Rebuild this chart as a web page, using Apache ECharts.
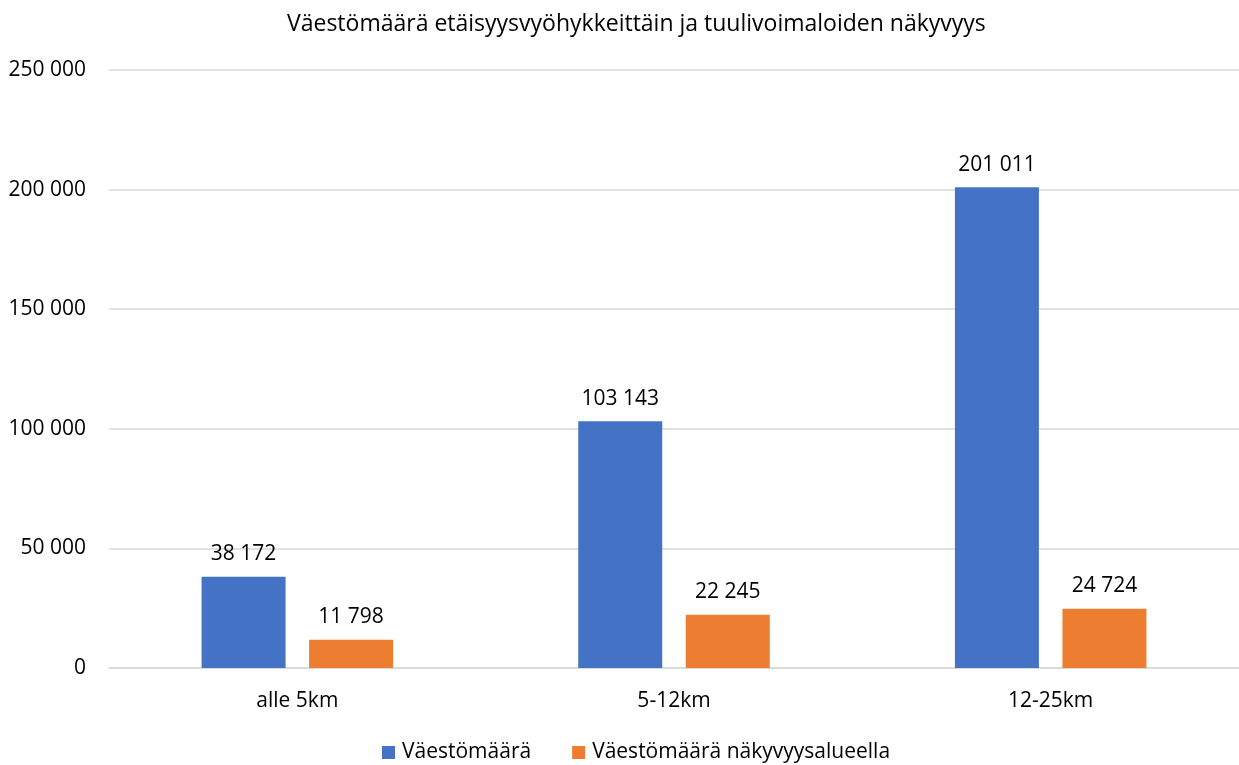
<!DOCTYPE html>
<html>
<head>
<meta charset="utf-8">
<script src="https://cdn.jsdelivr.net/npm/echarts@6/dist/echarts.min.js"></script>
<style>
  html, body { margin: 0; padding: 0; background: #fff; }
  #main { width: 1239px; height: 765px; }
</style>
</head>
<body>
<div id="main"></div>
<script>
// etäisyysvyöhykkeet
const categories = ['alle 5km', '5-12km', '12-25km'];
const vaesto = [38172, 103143, 201011];
const vaestoNakyvyys = [11798, 22245, 24724];
const seriesNames = ['Väestömäärä', 'Väestömäärä näkyvyysalueella'];
const titleText = 'Väestömäärä etäisyysvyöhykkeittäin ja tuulivoimaloiden näkyvyys';

const FONT = '"Open Sans", Lato, sans-serif';
const TEXT = '#000';
const FS = 21;       // akselit, selite, arvot
const FS_TITLE = 23;
const MID = 636;     // otsikko ja selite hieman oikealla keskeltä

// 12345 -> "12 345"
function fmt(v) {
  return String(v).replace(/\B(?=(\d{3})+(?!\d))/g, ' ');
}

// tekstin leveys keskitystä varten
const ctx = document.createElement('canvas').getContext('2d');
function tw(s, size) {
  ctx.font = size + 'px ' + FONT;
  return ctx.measureText(s).width;
}

const ICON = 13, ICON_TXT = 7, ITEM_GAP = 41;
const legendW = seriesNames.reduce((s, n) => s + ICON + ICON_TXT + tw(n, FS), 0) + ITEM_GAP;

const chart = echarts.init(document.getElementById('main'), null, { renderer: 'canvas' });

const option = {
  animation: false,
  textStyle: { fontFamily: FONT },
  title: {
    text: titleText,
    left: Math.round(MID - tw(titleText, FS_TITLE) / 2) - 5,
    top: 8,
    textStyle: { fontFamily: FONT, fontSize: FS_TITLE, fontWeight: 'normal', color: TEXT }
  },
  legend: {
    top: 737,
    left: Math.round(MID - legendW / 2) - 5,
    itemWidth: ICON,
    itemHeight: ICON,
    itemGap: ITEM_GAP,
    icon: 'rect',
    textStyle: { fontFamily: FONT, fontSize: FS, color: TEXT, padding: [0, 0, 0, ICON_TXT - 5] }
  },
  grid: { left: 109, right: -3, top: 70, bottom: 97, containLabel: false },
  xAxis: {
    type: 'category',
    data: categories,
    axisLine: { lineStyle: { color: '#d9d9d9', width: 1.5 } },
    axisTick: { show: false },
    axisLabel: { fontFamily: FONT, fontSize: FS, color: TEXT, margin: 23 }
  },
  yAxis: {
    type: 'value',
    min: 0,
    max: 250000,
    interval: 50000,
    axisLine: { show: false },
    axisTick: { show: false },
    splitLine: { lineStyle: { color: '#d9d9d9', width: 1.5 } },
    axisLabel: {
      fontFamily: FONT, fontSize: FS, color: TEXT, margin: 23,
      formatter: fmt
    }
  },
  series: [
    {
      name: seriesNames[0],
      type: 'bar',
      data: vaesto,
      barWidth: 84,
      barGap: '28%',
      itemStyle: { color: '#4472C4' },
      label: {
        show: true, position: 'top', distance: 12,
        fontFamily: FONT, fontSize: FS, color: TEXT,
        formatter: p => fmt(p.value)
      }
    },
    {
      name: seriesNames[1],
      type: 'bar',
      data: vaestoNakyvyys,
      barWidth: 84,
      barGap: '28%',
      itemStyle: { color: '#ED7D31' },
      label: {
        show: true, position: 'top', distance: 12,
        fontFamily: FONT, fontSize: FS, color: TEXT,
        formatter: p => fmt(p.value)
      }
    }
  ]
};

chart.setOption(option);
</script>
</body>
</html>
